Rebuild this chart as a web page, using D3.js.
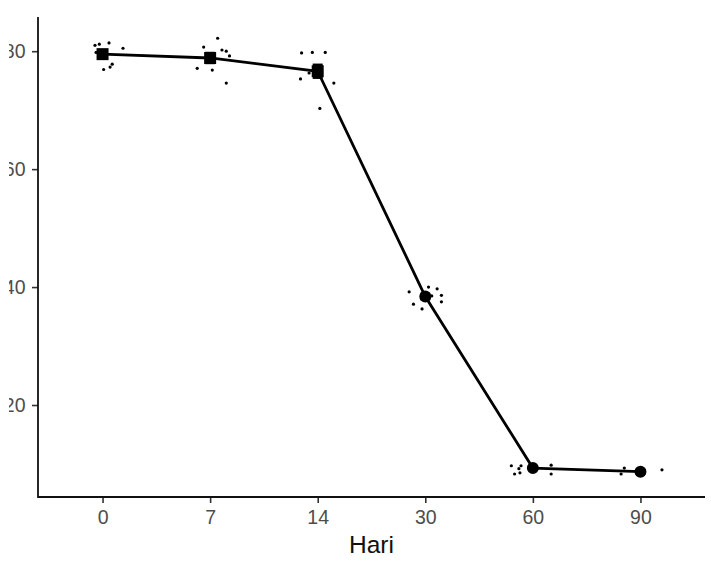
<!DOCTYPE html>
<html>
<head>
<meta charset="utf-8">
<script src="https://cdn.jsdelivr.net/npm/d3@7"></script>
<style>
  body { margin: 0; background: #fff; }
  svg { display: block; }
</style>
</head>
<body>
<div id="chart"></div>
<script>
// days on the x axis (discrete, like a ggplot factor)
let days = ["0", "7", "14", "30", "60", "90"];

// group means and standard errors
let means = [79.5, 78.85, 76.6, 38.4, 9.3, 8.7];
let errs = [0.6, 0.85, 1.1, 0.45, 0.3, 0.3];
// first three days are drawn as squares, the rest as circles
let shapes = ["square", "square", "square", "circle", "circle", "circle"];

// raw observations per day, with their horizontal jitter in category units
let obsDay = ["0","0","0","0","0","0","0","0",
              "7","7","7","7","7","7","7","7",
              "14","14","14","14","14","14","14",
              "30","30","30","30","30","30","30","30",
              "60","60","60","60","60","60","60",
              "90","90","90"];
let obsValue = [81.0, 81.2, 81.4, 80.5, 76.9, 77.3, 77.8, 79.8,
                80.7, 82.2, 80.2, 80.0, 79.2, 77.1, 76.8, 74.6,
                79.7, 79.8, 79.8, 75.3, 76.3, 74.6, 70.3,
                39.2, 40.0, 39.7, 38.6, 37.5, 37.1, 36.3, 38.5,
                9.7, 9.7, 9.2, 8.3, 8.5, 9.8, 8.3,
                9.3, 8.3, 9.0];
let obsJitter = [-0.07, -0.03, 0.06, 0.19, 0.01, 0.07, 0.09, -0.06,
                 -0.06, 0.07, 0.11, 0.15, 0.18, -0.12, 0.02, 0.15,
                 -0.15, -0.05, 0.07, -0.16, -0.08, 0.15, 0.02,
                 -0.15, 0.03, 0.11, 0.15, 0.15, -0.11, -0.03, 0.06,
                 -0.2, -0.11, -0.13, -0.17, -0.12, 0.17, 0.17,
                 -0.15, -0.18, 0.2];

let yTicks = [20, 40, 60, 80];

let width = 711, height = 568;
let mLeft = 38, mRight = 705, mTop = 17, mBottom = 497;
let font = "'Liberation Sans', Arial, sans-serif";

let svg = d3.select("#chart").append("svg")
    .attr("width", width)
    .attr("height", height);

// the source image was cropped a bit, cutting off the left of the y labels
svg.append("clipPath").attr("id", "ycrop")
  .append("rect").attr("x", 9).attr("y", 0).attr("width", width).attr("height", height);

let x = d3.scalePoint().domain(days).range([mLeft, mRight]).padding(0.6);
let y = d3.scaleLinear().domain([4.4, 85.8]).range([mBottom, mTop]);
let step = x.step();

let summary = days.map((d, i) => ({day: d, mean: means[i], se: errs[i], shape: shapes[i]}));
let obs = obsDay.map((d, i) => ({day: d, value: obsValue[i], jitter: obsJitter[i]}));

// axes
let yAxis = svg.append("g")
    .attr("clip-path", "url(#ycrop)")
  .append("g")
    .attr("transform", "translate(" + mLeft + ",0)")
    .call(d3.axisLeft(y).tickValues(yTicks).tickSize(6).tickPadding(6.5));
let xAxis = svg.append("g")
    .attr("transform", "translate(0," + mBottom + ")")
    .call(d3.axisBottom(x).tickSize(6).tickPadding(7));

[xAxis, yAxis].forEach(g => {
  g.select(".domain").remove();
  g.selectAll(".tick line").attr("stroke", "#333").attr("stroke-width", 1.6);
  g.selectAll(".tick text")
    .attr("fill", "#4d4d4d")
    .style("font-family", font)
    .style("font-size", "19.5px");
});

svg.append("path")
    .attr("d", d3.line()([[mLeft, mTop], [mLeft, mBottom], [mRight, mBottom]]))
    .attr("fill", "none")
    .attr("stroke", "#111")
    .attr("stroke-width", 1.8);

svg.append("text")
    .attr("x", (mLeft + mRight) / 2)
    .attr("y", 553)
    .attr("text-anchor", "middle")
    .style("font-family", font)
    .style("font-size", "24.5px")
    .attr("fill", "#111")
    .text("Hari");

// jittered raw points
svg.append("g").selectAll("circle")
  .data(obs)
  .join("circle")
    .attr("cx", d => x(d.day) + d.jitter * step)
    .attr("cy", d => y(d.value))
    .attr("r", 1.6)
    .attr("fill", "#000");

// line through the means
svg.append("path")
    .datum(summary)
    .attr("d", d3.line().x(d => x(d.day)).y(d => y(d.mean)))
    .attr("fill", "none")
    .attr("stroke", "#000")
    .attr("stroke-width", 2.8);

// error bars
let eb = svg.append("g").selectAll("g")
  .data(summary)
  .join("g")
    .attr("stroke", "#000")
    .attr("stroke-width", 2.4);
eb.append("line")
    .attr("x1", d => x(d.day)).attr("x2", d => x(d.day))
    .attr("y1", d => y(d.mean - d.se)).attr("y2", d => y(d.mean + d.se));
eb.append("line")
    .attr("x1", d => x(d.day) - 5).attr("x2", d => x(d.day) + 5)
    .attr("y1", d => y(d.mean - d.se)).attr("y2", d => y(d.mean - d.se));
eb.append("line")
    .attr("x1", d => x(d.day) - 5).attr("x2", d => x(d.day) + 5)
    .attr("y1", d => y(d.mean + d.se)).attr("y2", d => y(d.mean + d.se));

// mean markers
let sym = d3.symbol().type(d => d.shape === "square" ? d3.symbolSquare : d3.symbolCircle)
    .size(d => d.shape === "square" ? 144 : 113);
svg.append("g").selectAll("path")
  .data(summary)
  .join("path")
    .attr("transform", d => "translate(" + x(d.day) + "," + y(d.mean) + ")")
    .attr("d", sym)
    .attr("fill", "#000");
</script>
</body>
</html>
